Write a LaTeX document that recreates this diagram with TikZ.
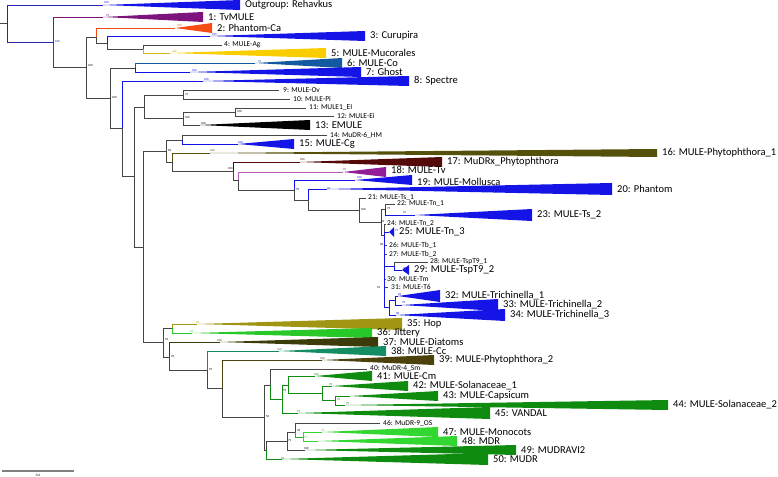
\documentclass[tikz,border=0pt]{standalone}
\usepackage{fontspec}
\setmainfont{Carlito}
\definecolor{brgrey}{RGB}{70,70,70}
\definecolor{cblue}{RGB}{20,20,230}
\definecolor{cpurple}{RGB}{125,20,125}
\definecolor{corange}{RGB}{245,75,20}
\definecolor{cgold}{RGB}{250,205,0}
\definecolor{csteel}{RGB}{20,90,160}
\definecolor{colive}{RGB}{85,80,10}
\definecolor{cdred}{RGB}{85,10,10}
\definecolor{cpurp2}{RGB}{145,30,150}
\definecolor{chop}{RGB}{160,150,20}
\definecolor{cjit}{RGB}{40,200,40}
\definecolor{cdiat}{RGB}{60,60,10}
\definecolor{ccc}{RGB}{20,140,100}
\definecolor{cphy}{RGB}{75,65,10}
\definecolor{cgreen}{RGB}{15,140,15}
\definecolor{clgreen}{RGB}{50,215,50}
\newcommand{\cladetri}[8][0]{%
  \coordinate (#2) at (#3,#4);
  \fill[#7] (#2) -- (#5,#4-#6) -- (#5,#4+#6) -- cycle;
  \node[big, yshift=#1pt] (#2l) at (#5+5,#4) {#8};}
\newcommand{\tiptext}[5]{%
  \coordinate (#1) at (#2,#3);
  \node[small] (#1l) at (#4,#3) {#5};}
\begin{document}
\begin{tikzpicture}[x=1pt,y=-1pt,
  gb/.style={draw=brgrey, line width=0.75pt},
  cb/.style={draw=#1, line width=0.75pt},
  big/.style={anchor=west, inner sep=0pt, font=\fontsize{10.5}{11}\selectfont},
  small/.style={anchor=west, inner sep=0pt, font=\fontsize{7.5}{8}\selectfont},
  sup/.style={anchor=west, inner sep=0pt, font=\fontsize{3}{3}\selectfont},
]
\useasboundingbox (0,0) rectangle (778,476);
% ---------- internal nodes ----------
\coordinate (stub) at (0,23);
\coordinate (root) at (7,23);
\coordinate (n53) at (53,42);
\coordinate (n86) at (86,67);
\coordinate (n96) at (96,37);
\coordinate (n107) at (107,43);
\coordinate (n143a) at (143,49);
\coordinate (n110) at (110,98);
\coordinate (n135) at (135,68);
\coordinate (n122) at (122,128);
\coordinate (n134) at (134,176);
\coordinate (n144) at (144,107);
\coordinate (n183a) at (183,95);
\coordinate (n183b) at (183,118);
\coordinate (n235) at (235,112);
\coordinate (n143b) at (143,247);
\coordinate (n166) at (166,151);
\coordinate (n182) at (182,140);
\coordinate (n172) at (172,162);
\coordinate (n233) at (233,171);
\coordinate (n238) at (238,180);
\coordinate (n294) at (294,190);
\coordinate (n308) at (308,200);
\coordinate (n359) at (359,210);
\coordinate (n381) at (381,222);
\coordinate (n385) at (385,209);
\coordinate (n384) at (384,235);
\coordinate (n394) at (394,266);
\coordinate (n389) at (389,307);
\coordinate (n395) at (395,300);
\coordinate (n163) at (163,342);
\coordinate (n172b) at (172,328);
\coordinate (n169) at (169,357);
\coordinate (n207) at (207,370);
\coordinate (n222) at (222,388);
\coordinate (nS) at (264,417);
\coordinate (nT) at (270,385);
\coordinate (nG) at (282,399);
\coordinate (nH) at (288,385);
\coordinate (nI) at (322,393);
\coordinate (nJ) at (335,400);
\coordinate (nS2) at (266,450);
\coordinate (nW) at (287,441);
\coordinate (nX) at (295,432);
\coordinate (nY) at (303,437);
% ---------- collapsed clades ----------
\cladetri{og}{103}{5}{240}{5}{cblue}{Outgroup: Rehavkus}
\cladetri{t1}{103}{17}{203}{5}{cpurple}{1: TvMULE}
\cladetri{t2}{175}{28}{212}{5}{corange}{2: Phantom-Ca}
\cladetri{t3}{210}{36}{365}{5}{cblue}{3: Curupira}
\cladetri{t5}{170}{53}{326}{5}{cgold}{5: MULE-Mucorales}
\cladetri{t6}{255}{63}{342}{5}{csteel}{6: MULE-Co}
\cladetri{t7}{190}{72}{361}{5}{cblue}{7: Ghost}
\cladetri{t8}{203}{81}{409}{5}{cblue}{8: Spectre}
\cladetri{t13}{200}{125}{310}{5}{black}{13: EMULE}
\cladetri{t15}{238}{144}{294}{5}{cblue}{15: MULE-Cg}
\cladetri{t16}{210}{153}{657}{4}{colive}{16: MULE-Phytophthora\_1}
\cladetri{t17}{300}{162}{442}{5}{cdred}{17: MuDRx\_Phytophthora}
\cladetri[2]{t18}{343}{172}{386}{5}{cpurp2}{18: MULE-Tv}
\cladetri[-1.5]{t19}{355}{180}{412}{5}{cblue}{19: MULE-Mollusca}
\cladetri{t20}{327}{189}{612}{6}{cblue}{20: Phantom}
\cladetri{t23}{415}{215}{532}{6}{cblue}{23: MULE-Ts\_2}
\cladetri{t25}{389}{232}{394}{5}{cblue}{25: MULE-Tn\_3}
\cladetri{t29}{402}{270}{409}{5}{cblue}{29: MULE-TspT9\_2}
\cladetri{t32}{398}{296}{440}{6}{cblue}{32: MULE-Trichinella\_1}
\cladetri{t33}{402}{305}{498}{6}{cblue}{33: MULE-Trichinella\_2}
\cladetri{t34}{396}{315}{505}{6}{cblue}{34: MULE-Trichinella\_3}
\cladetri{t35}{197}{324}{402}{6}{chop}{35: Hop}
\cladetri{t36}{192}{333}{372}{5}{cjit}{36: Jittery}
\cladetri{t37}{220}{342}{378}{5}{cdiat}{37: MULE-Diatoms}
\cladetri{t38}{279}{351}{386}{5}{ccc}{38: MULE-Cc}
\cladetri{t39}{322}{360}{434}{5}{cphy}{39: MULE-Phytophthora\_2}
\cladetri{t41}{315}{376}{372}{5}{cgreen}{41: MULE-Cm}
\cladetri{t42}{332}{386}{408}{5}{cgreen}{42: MULE-Solanaceae\_1}
\cladetri{t43}{350}{396}{438}{5}{cgreen}{43: MULE-Capsicum}
\cladetri{t44}{345}{405}{668}{5}{cgreen}{44: MULE-Solanaceae\_2}
\cladetri{t45}{298}{413}{490}{6}{cgreen}{45: VANDAL}
\cladetri{t47}{322}{432}{438}{5}{clgreen}{47: MULE-Monocots}
\cladetri{t48}{318}{441}{457}{5}{clgreen}{48: MDR}
\cladetri{t49}{305}{450}{516}{5}{cgreen}{49: MUDRAVI2}
\cladetri{t50}{282}{459}{488}{6}{cgreen}{50: MUDR}
% ---------- single tips ----------
\tiptext{t4}{222}{45}{224}{4: MULE-Ag}
\tiptext{t9}{279}{90}{283}{9: MULE-Ov}
\tiptext{t10}{290}{99}{293}{10: MULE-Pi}
\tiptext{t11}{306}{108}{309}{11: MULE1\_EI}
\tiptext{t12}{334}{116}{337}{12: MULE-Ei}
\tiptext{t14}{327}{135}{330}{14: MuDR-6\_HM}
\tiptext{t21}{366}{198}{368}{21: MULE-Ts\_1}
\tiptext{t22}{395}{204}{397}{22: MULE-Tn\_1}
\tiptext{t24}{386}{224}{387}{24: MULE-Tn\_2}
\tiptext{t26}{387}{245}{389}{26: MULE-Tb\_1}
\tiptext{t27}{387}{254}{389}{27: MULE-Tb\_2}
\tiptext{t28}{428}{262}{430}{28: MULE-TspT9\_1}
\tiptext{t30}{386}{279}{387}{30: MULE-Tm}
\tiptext{t31}{388}{287}{391}{31: MULE-T6}
\tiptext{t40}{367}{369}{370}{40: MuDR-4\_Sm}
\tiptext{t46}{380}{423}{383}{46: MuDR-9\_OS}
% ---------- branches ----------
\draw[gb] (stub) -- (root);
\draw[cb=cblue!70!brgrey] (root) |- (og);
\draw[cb=cblue!60!brgrey] (root) |- (n53);
\draw[cb=cpurple] (n53) |- (t1);
\draw[gb] (n53) |- (n86);
\draw[gb] (n86) |- (n96);
\draw[cb=corange] (n96) |- (t2);
\draw[gb] (n96) |- (n107);
\draw[cb=cblue] (n107) |- (t3);
\draw[gb] (n107) |- (n143a);
\draw[gb] (n143a) |- (t4);
\draw[cb=cgold!80!brgrey] (n143a) |- (t5);
\draw[gb] (n86) |- (n110);
\draw[gb] (n110) |- (n135);
\draw[cb=csteel] (n135) |- (t6);
\draw[cb=cblue] (n135) |- (t7);
\draw[gb] (n110) |- (n122);
\draw[cb=cblue] (n122) |- (t8);
\draw[gb] (n122) |- (n134);
\draw[gb] (n134) |- (n144);
\draw[gb] (n144) |- (n183a);
\draw[gb] (n183a) |- (t9);
\draw[gb] (n183a) |- (t10);
\draw[gb] (n144) |- (n183b);
\draw[gb] (n183b) |- (n235);
\draw[gb] (n235) |- (t11);
\draw[gb] (n235) |- (t12);
\draw[gb] (n183b) |- (t13);
\draw[gb] (n134) |- (n143b);
\draw[gb] (n143b) |- (n166);
\draw[gb] (n166) |- (n182);
\draw[gb] (n182) |- (t14);
\draw[cb=cblue] (n182) |- (t15);
\draw[gb] (n166) |- (n172);
\draw[cb=colive] (n172) |- (t16);
\draw[gb] (n172) |- (n233);
\draw[cb=cdred] (n233) |- (t17);
\draw[gb] (n233) |- (n238);
\draw[cb=cpurp2!70!white] (n238) |- (t18);
\draw[gb] (n238) |- (n294);
\draw[cb=cblue] (n294) |- (t19);
\draw[gb] (n294) |- (n308);
\draw[cb=cblue] (n308) |- (t20);
\draw[gb] (n308) |- (n359);
\draw[gb] (n359) |- (t21);
\draw[gb] (n359) |- (n381);
\draw[gb] (n381) |- (n385);
\draw[gb] (n385) |- (t22);
\draw[cb=cblue] (n385) |- (t23);
\draw[gb] (n381) |- (n384);
\draw[gb] (n384) |- (t24);
\draw[cb=cblue] (n384) |- (t25);
\draw[gb] (n384) |- (t26);
\draw[gb] (n384) |- (t27);
\draw[cb=cblue] (n384) |- (n394);
\draw[gb] (n394) |- (t28);
\draw[cb=cblue] (n394) |- (t29);
\draw[gb] (n384) |- (t30);
\draw[gb] (n384) |- (t31);
\draw[cb=cblue] (n384) |- (n389);
\draw[cb=cblue] (n389) |- (n395);
\draw[cb=cblue] (n395) |- (t32);
\draw[cb=cblue] (n395) |- (t33);
\draw[cb=cblue] (n389) |- (t34);
\draw[gb] (n143b) |- (n163);
\draw[gb] (n163) |- (n172b);
\draw[cb=chop] (n172b) |- (t35);
\draw[cb=cjit] (n172b) |- (t36);
\draw[gb] (n163) |- (n169);
\draw[cb=cdiat] (n169) |- (t37);
\draw[gb] (n169) |- (n207);
\draw[cb=ccc] (n207) |- (t38);
\draw[gb] (n207) |- (n222);
\draw[cb=cphy] (n222) |- (t39);
\draw[gb] (n222) |- (nS);
\draw[gb] (nS) |- (nT);
\draw[gb] (nT) |- (t40);
\draw[cb=cgreen] (nT) |- (nG);
\draw[cb=cgreen] (nG) |- (nH);
\draw[cb=cgreen] (nH) |- (t41);
\draw[cb=cgreen] (nH) |- (nI);
\draw[cb=cgreen] (nI) |- (t42);
\draw[cb=cgreen] (nI) |- (nJ);
\draw[cb=cgreen] (nJ) |- (t43);
\draw[cb=cgreen] (nJ) |- (t44);
\draw[cb=cgreen] (nG) |- (t45);
\draw[gb] (nS) |- (nS2);
\draw[gb] (nS2) |- (nW);
\draw[gb] (nW) |- (nX);
\draw[gb] (nX) |- (t46);
\draw[cb=clgreen!80!black] (nX) |- (nY);
\draw[cb=clgreen] (nY) |- (t47);
\draw[cb=clgreen] (nY) |- (t48);
\draw[gb] (nW) |- (t49);
\draw[cb=cgreen] (nS2) |- (t50);
% ---------- support values ----------
\node[sup, text=cblue] (s1) at (104,3) {100};
\node[sup, text=cpurple] (s2) at (106,16) {99};
\node[sup, text=corange] (s3) at (177,26) {100};
\node[sup, text=cblue] (s4) at (55,42) {100};
\node[sup] (s5) at (88,66) {100};
\node[sup, text=cblue] (s6) at (212,35) {100};
\node[sup, text=cgold!80!black] (s7) at (172,52) {100};
\node[sup] (s8) at (112,98) {100};
\node[sup, text=csteel] (s9) at (258,62) {99};
\node[sup, text=cblue] (s10) at (192,71) {100};
\node[sup, text=cblue] (s11) at (204,80) {100};
\node[sup] (s12) at (185,95) {75};
\node[sup] (s13) at (237,112) {100};
\node[sup] (s14) at (185,118) {100};
\node[sup] (s15) at (201,124) {100};
\node[sup, text=cblue] (s16) at (238,143) {100};
\node[sup] (s17) at (168,150) {83};
\node[sup, text=colive] (s18) at (210,151) {100};
\node[sup, text=cdred] (s19) at (300,160) {100};
\node[sup] (s20) at (228,169) {100};
\node[sup, text=cpurp2] (s21) at (343,170) {95};
\node[sup, text=cblue] (s22) at (357,178) {100};
\node[sup] (s23) at (296,190) {99};
\node[sup, text=cblue] (s24) at (327,188) {96};
\node[sup] (s25) at (361,210) {100};
\node[sup] (s26) at (387,209) {79};
\node[sup, text=cblue] (s27) at (403,213) {95};
\node[sup] (s28) at (381,221) {96};
\node[sup, text=cblue] (s29) at (395,231) {97};
\node[sup] (s30) at (380,244) {98};
\node[sup, text=cblue] (s31) at (403,269) {99};
\node[sup] (s32) at (377,288) {94};
\node[sup, text=cblue] (s33) at (398,294) {83};
\node[sup, text=cblue] (s34) at (402,303) {99};
\node[sup, text=cblue] (s35) at (396,313) {98};
\node[sup, text=chop] (s36) at (196,323) {91};
\node[sup, text=cjit] (s37) at (190,332) {91};
\node[sup] (s38) at (165,340) {99};
\node[sup, text=cdiat] (s39) at (217,341) {100};
\node[sup] (s40) at (171,356) {78};
\node[sup, text=ccc] (s41) at (277,350) {100};
\node[sup] (s42) at (209,370) {99};
\node[sup, text=cphy] (s43) at (320,359) {100};
\node[sup] (s44) at (266,417) {50};
\node[sup, text=cgreen] (s45) at (314,375) {100};
\node[sup] (s46) at (283,391) {99};
\node[sup, text=cgreen] (s47) at (329,385) {99};
\node[sup, text=cgreen] (s48) at (337,400) {99};
\node[sup, text=cgreen] (s49) at (346,404) {95};
\node[sup, text=cgreen] (s50) at (297,412) {99};
\node[sup] (s51) at (297,430) {78};
\node[sup, text=clgreen] (s52) at (321,431) {73};
\node[sup, text=clgreen] (s53) at (304,438) {75};
\node[sup] (s54) at (288,441) {79};
\node[sup] (s55) at (304,449) {100};
\node[sup, text=cgreen] (s56) at (281,458) {98};
% ---------- scale bar ----------
\coordinate (sb1) at (2,471);
\coordinate (sb2) at (74,471);
\draw[gray, line width=1.2pt] (sb1) -- (sb2);
\node[inner sep=0pt, font=\fontsize{3.5}{4}\selectfont] (sbl) at (38,475) {0.4};
\end{tikzpicture}
\end{document}
